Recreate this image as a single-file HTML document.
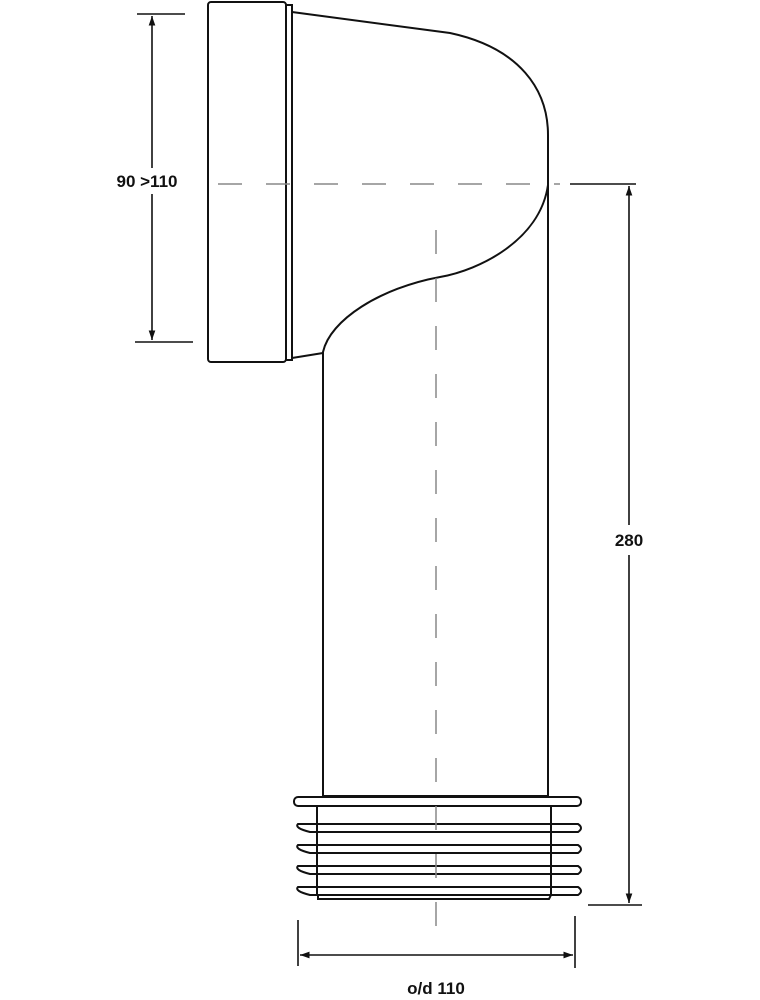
<!DOCTYPE html>
<html><head><style>body{margin:0;background:#fff}svg{display:block}text{font-family:"Liberation Sans",sans-serif;font-weight:bold;font-size:17px;fill:#111}</style></head>
<body>
<svg width="760" height="1000" viewBox="0 0 760 1000" xmlns="http://www.w3.org/2000/svg">
<defs><marker id="a" viewBox="0 0 10 10" refX="10" refY="5" markerWidth="6" markerHeight="6" orient="auto-start-reverse"><path d="M0,1.5 L10,5 L0,8.5z" fill="#111"/></marker></defs>
<g fill="none" stroke="#111" stroke-width="2">
<path d="M292,12 L450,33 C520,48 548,90 548,135 L548,796"/>
<path d="M548,185 C540,240 480,270 440,277 C380,288 330,320 323,352 L323,796"/>
<path d="M292,358 L323,353"/>
<rect x="208" y="2" width="78" height="360" rx="3"/>
<rect x="286" y="5" width="6" height="355"/>
<line x1="322" y1="796" x2="549" y2="796"/>
<rect x="294" y="797" width="287" height="9" rx="4"/>
<line x1="317" y1="806" x2="317" y2="896"/>
<line x1="551" y1="806" x2="551" y2="896"/>
<path d="M298,824 L578,824 Q584,828 578,832 L310,832 Q294,828 298,824z"/>
<path d="M298,845 L578,845 Q584,849 578,853 L310,853 Q294,849 298,845z"/>
<path d="M298,866 L578,866 Q584,870 578,874 L310,874 Q294,870 298,866z"/>
<path d="M298,887 L578,887 Q584,891 578,895 L310,895 Q294,891 298,887z"/>
<path d="M318,895 L318,899 L549,899 L551,895"/>
</g>
<g stroke="#111" stroke-width="1.6" fill="none">
<line x1="137" y1="14" x2="185" y2="14"/>
<line x1="135" y1="342" x2="193" y2="342"/>
<line x1="152" y1="16" x2="152" y2="168" marker-start="url(#a)"/>
<line x1="152" y1="194" x2="152" y2="340" marker-end="url(#a)"/>
<line x1="570" y1="184" x2="636" y2="184"/>
<line x1="588" y1="905" x2="642" y2="905"/>
<line x1="629" y1="186" x2="629" y2="525" marker-start="url(#a)"/>
<line x1="629" y1="555" x2="629" y2="903" marker-end="url(#a)"/>
<line x1="298" y1="920" x2="298" y2="966"/>
<line x1="575" y1="916" x2="575" y2="968"/>
<line x1="300" y1="955" x2="573" y2="955" marker-start="url(#a)" marker-end="url(#a)"/>
</g>
<g stroke="#888" stroke-width="1.5" stroke-dasharray="24,24">
<line x1="218" y1="184" x2="560" y2="184"/>
<line x1="436" y1="230" x2="436" y2="945"/>
</g>
<text x="147" y="187" text-anchor="middle">90 &gt;110</text>
<text x="629" y="546" text-anchor="middle">280</text>
<text x="436" y="994" text-anchor="middle">o/d 110</text>
</svg>
</body></html>
